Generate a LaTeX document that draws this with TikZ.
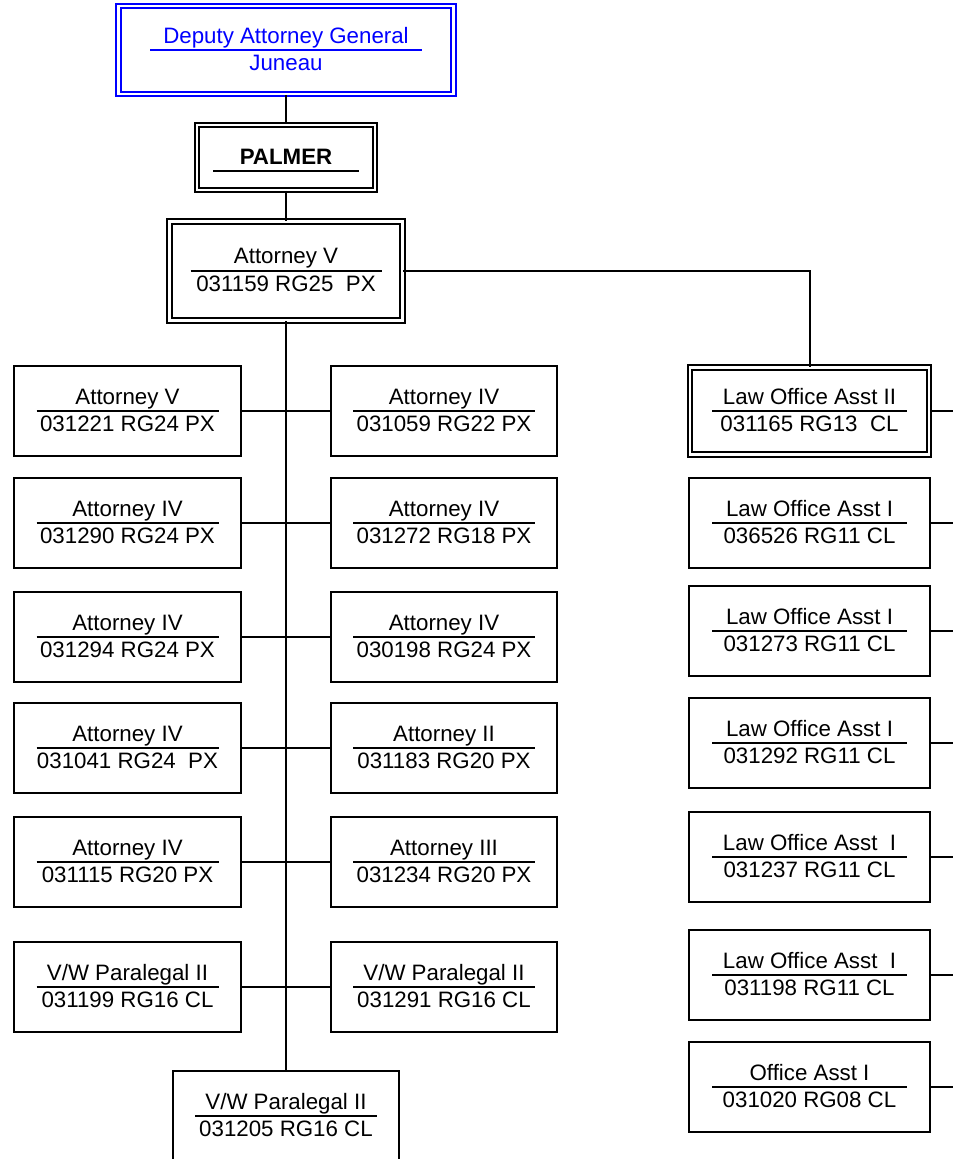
\documentclass[tikz,border=0pt]{standalone}
\usepackage{fontspec}
\setmainfont{Liberation Sans}
\usetikzlibrary{calc}
\definecolor{dagblue}{RGB}{0,0,255}
\tikzset{
  box/.style={draw=black, line width=1.8pt, rectangle, inner sep=0pt, fill=white},
  dbox/.style={draw=black, double=white, double distance=2.7pt, line width=1.7pt, rectangle, inner sep=0pt},
  bluebox/.style={dbox, draw=dagblue},
  conn/.style={draw=black, line width=2pt},
  uline/.style={draw=black, line width=1.5pt},
  lbl/.style={inner sep=0pt, anchor=base, font=\fontsize{22.3}{26}\selectfont},
}
% name, cx, cy, w, h, underline half width, line1, line2, style
\newcommand{\posbox}[9]{%
  \node[#9, minimum width=#4pt, minimum height=#5pt] (#1) at (#2,#3) {};
  \draw[uline] ($(#1.center)+(-#6,0)$) -- ($(#1.center)+(#6,0)$);
  \node[lbl] (#1-a) at ($(#1.center)+(0,-6.5)$) {#7};
  \node[lbl] (#1-b) at ($(#1.center)+(0,20)$) {#8};
}
\begin{document}
\begin{tikzpicture}[x=1pt, y=-1pt]
\useasboundingbox (0,0) rectangle (953,1159);
\fill[white] (0,0) rectangle (953,1159);
\coordinate (edge) at (953,0);

% top
\node[bluebox, minimum width=335pt, minimum height=88pt] (dag) at (286,50) {};
\draw[uline, draw=dagblue] ($(dag.center)+(-136,0)$) -- ($(dag.center)+(136,0)$);
\node[lbl, text=dagblue] (dag-a) at ($(dag.center)+(0,-7)$) {Deputy Attorney General};
\node[lbl, text=dagblue] (dag-b) at ($(dag.center)+(0,20)$) {Juneau};

\node[dbox, minimum width=178pt, minimum height=65pt] (palmer) at (286,157.5) {};
\draw[uline] (213,171) -- (359,171);
\node[lbl, font=\fontsize{22.3}{26}\selectfont\bfseries] (palmer-a) at (286,164.5) {PALMER};

\node[dbox, double distance=3.3pt, minimum width=233pt, minimum height=99pt] (atv) at (286,271) {};
\draw[uline] ($(atv.center)+(-95.5,0)$) -- ($(atv.center)+(95.5,0)$);
\node[lbl] (atv-a) at ($(atv.center)+(0,-8)$) {Attorney V};
\node[lbl] (atv-b) at ($(atv.center)+(0,20)$) {031159 RG25~ PX};

% left column
\posbox{l1}{127.5}{411}{227}{90}{91}{Attorney V}{031221 RG24 PX}{box}
\posbox{l2}{127.5}{523}{227}{90}{91}{Attorney IV}{031290 RG24 PX}{box}
\posbox{l3}{127.5}{637}{227}{90}{91}{Attorney IV}{031294 RG24 PX}{box}
\posbox{l4}{127.5}{748}{227}{90}{91}{Attorney IV}{031041 RG24~ PX}{box}
\posbox{l5}{127.5}{862}{227}{90}{91}{Attorney IV}{031115 RG20 PX}{box}
\posbox{l6}{127.5}{987}{227}{90}{91}{V/W Paralegal II}{031199 RG16 CL}{box}

% middle column
\posbox{m1}{444}{411}{226}{90}{91}{Attorney IV}{031059 RG22 PX}{box}
\posbox{m2}{444}{523}{226}{90}{91}{Attorney IV}{031272 RG18 PX}{box}
\posbox{m3}{444}{637}{226}{90}{91}{Attorney IV}{030198 RG24 PX}{box}
\posbox{m4}{444}{748}{226}{90}{91}{Attorney II}{031183 RG20 PX}{box}
\posbox{m5}{444}{862}{226}{90}{91}{Attorney III}{031234 RG20 PX}{box}
\posbox{m6}{444}{987}{226}{90}{91}{V/W Paralegal II}{031291 RG16 CL}{box}

% bottom
\posbox{bt}{286}{1116}{226}{90}{91}{V/W Paralegal II}{031205 RG16 CL}{box}

% right column
\posbox{r1}{809.5}{411}{239}{87}{97.5}{Law Office Asst II}{031165 RG13~ CL}{dbox}
\posbox{r2}{809.5}{523}{241}{90}{97.5}{Law Office Asst I}{036526 RG11 CL}{box}
\posbox{r3}{809.5}{631}{241}{90}{97.5}{Law Office Asst I}{031273 RG11 CL}{box}
\posbox{r4}{809.5}{743}{241}{90}{97.5}{Law Office Asst I}{031292 RG11 CL}{box}
\posbox{r5}{809.5}{857}{241}{90}{97.5}{Law Office Asst~ I}{031237 RG11 CL}{box}
\posbox{r6}{809.5}{975}{241}{90}{97.5}{Law Office Asst~ I}{031198 RG11 CL}{box}
\posbox{r7}{809.5}{1087}{241}{90}{97.5}{Office Asst I}{031020 RG08 CL}{box}

% connectors
\draw[conn] (dag.south) -- (palmer.north);
\draw[conn] (palmer.south) -- (atv.north);
\draw[conn] (atv.south) -- (bt.north);
\foreach \i in {1,...,6} {\draw[conn] (l\i.east) -- (m\i.west);}
\draw[conn] (atv.east) -| (r1.north);
\foreach \i in {1,...,7} {\draw[conn] (r\i.east) -- (r\i.east -| edge);}
\end{tikzpicture}
\end{document}
